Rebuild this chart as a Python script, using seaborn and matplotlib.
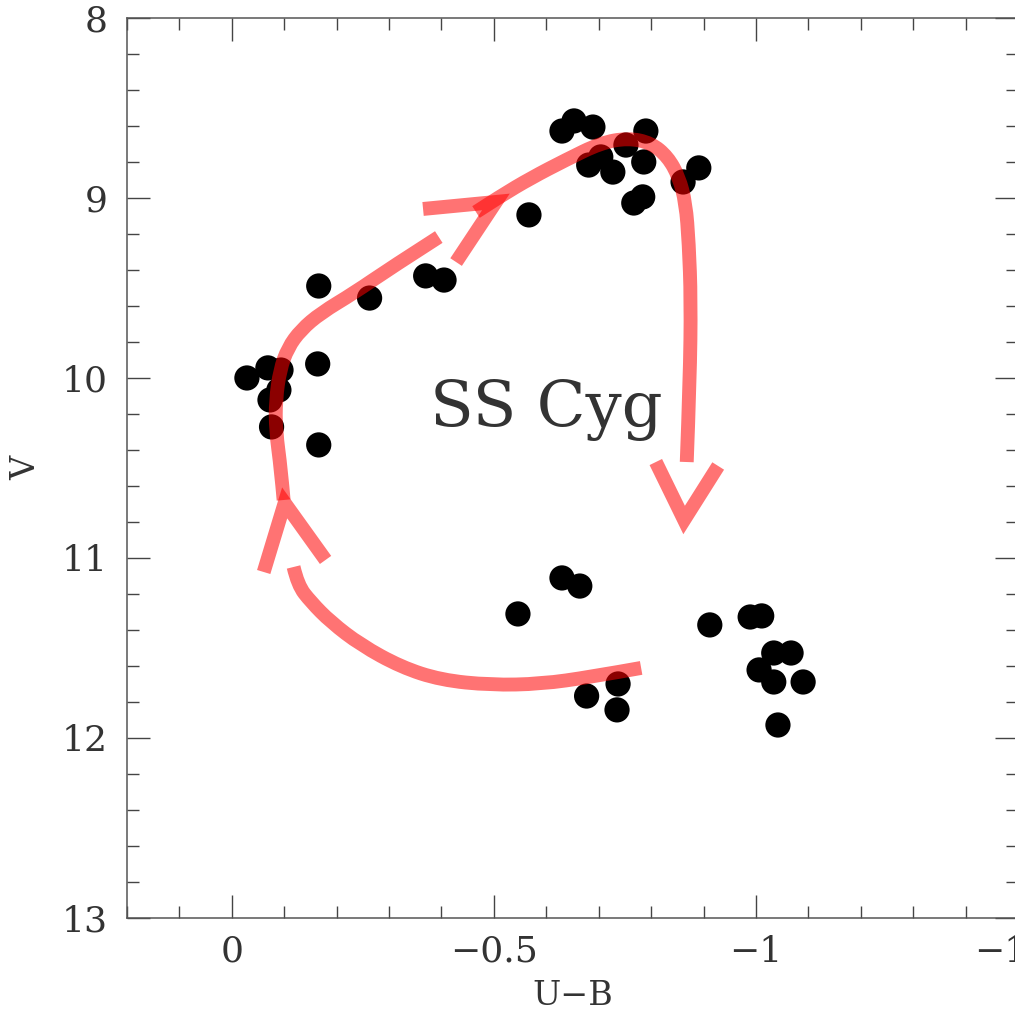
import numpy as np
import pandas as pd
import seaborn as sns
import matplotlib.pyplot as plt
from matplotlib.path import Path
from matplotlib.patches import PathPatch
from matplotlib.ticker import MultipleLocator

# SS Cyg colour-magnitude points (U-B, V)
ub_rise = [-0.029, -0.069, -0.094, -0.090, -0.073, -0.076, -0.166, -0.164,
           -0.166, -0.263, -0.370, -0.405, -0.567]
v_rise = [10.000, 9.944, 9.956, 10.067, 10.122, 10.272, 9.489, 9.922,
          10.372, 9.556, 9.433, 9.456, 9.094]

ub_peak = [-0.630, -0.653, -0.689, -0.790, -0.752, -0.681, -0.704, -0.727,
           -0.786, -0.891, -0.861, -0.767, -0.784]
v_peak = [8.628, 8.572, 8.606, 8.628, 8.706, 8.817, 8.772, 8.856,
          8.800, 8.833, 8.911, 9.028, 8.994]

ub_quiet = [-0.546, -0.630, -0.664, -0.677, -0.737, -0.735, -0.912, -0.989,
            -1.011, -1.034, -1.067, -1.006, -1.034, -1.090, -1.042]
v_quiet = [11.311, 11.111, 11.156, 11.767, 11.700, 11.844, 11.372, 11.328,
           11.322, 11.528, 11.528, 11.622, 11.689, 11.689, 11.928]

df = pd.DataFrame({"ub": ub_rise + ub_peak + ub_quiet,
                   "v": v_rise + v_peak + v_quiet})

# hand drawn red loop (annotation strokes, data units)
left_x = [-0.099, -0.094, -0.084, -0.084, -0.092, -0.107, -0.132, -0.170,
          -0.233, -0.303, -0.395]
left_y = [10.678, 10.511, 10.289, 10.122, 9.956, 9.833, 9.733, 9.639,
          9.528, 9.389, 9.217]
top_x = [-0.466, -0.513, -0.571, -0.637, -0.704, -0.756, -0.800, -0.832,
         -0.853, -0.866, -0.872, -0.876, -0.874, -0.868]
top_y = [9.078, 8.989, 8.889, 8.789, 8.694, 8.667, 8.694, 8.772,
         8.883, 9.028, 9.250, 9.567, 10.011, 10.467]
bot_x = [-0.118, -0.126, -0.151, -0.189, -0.246, -0.323, -0.399, -0.494,
         -0.590, -0.685, -0.781]
bot_y = [11.050, 11.150, 11.244, 11.356, 11.483, 11.606, 11.678, 11.706,
         11.700, 11.661, 11.611]
heads = [
    ([-0.365, -0.504, -0.428], [9.061, 9.022, 9.356]),
    ([-0.809, -0.863, -0.928], [10.467, 10.789, 10.489]),
    ([-0.061, -0.101, -0.179], [11.078, 10.694, 11.011]),
]

sns.set_style("ticks")
plt.rcParams['font.family'] = ['DejaVu Serif']

fig = plt.figure(figsize=(10.15, 10.16), dpi=100)
ax = fig.add_axes([0.125, 0.0965, 0.878, 0.8858])

sns.scatterplot(data=df, x="ub", y="v", color="black", s=330,
                edgecolor="none", legend=False, ax=ax, zorder=2)

red = dict(edgecolor="red", alpha=0.55, lw=10, fill=False,
           capstyle="butt", zorder=3)


def stroke(xs, ys):
    # smooth quadratic path through the midpoints of the sketched points
    pts = list(zip(xs, ys))
    verts = [pts[0]]
    codes = [Path.MOVETO]
    for i in range(1, len(pts) - 1):
        mid = ((pts[i][0] + pts[i + 1][0]) / 2, (pts[i][1] + pts[i + 1][1]) / 2)
        if i == len(pts) - 2:
            mid = pts[-1]
        verts += [pts[i], mid]
        codes += [Path.CURVE3, Path.CURVE3]
    ax.add_patch(PathPatch(Path(verts, codes), joinstyle="round", **red))


stroke(left_x, left_y)
stroke(top_x, top_y)
stroke(bot_x, bot_y)
for hx, hy in heads:
    ax.add_patch(PathPatch(Path(list(zip(hx, hy))), joinstyle="miter", **red))

ax.text(-0.60, 10.18, "SS Cyg", fontsize=46, ha="center", va="center",
        color="#333333")

ax.set_xlim(0.2, -1.5)
ax.set_ylim(13, 8)
ax.set_xticks([0, -0.5, -1, -1.5])
ax.set_xticklabels(["0", "\u22120.5", "\u22121", "\u22121.5"])
ax.set_yticks([8, 9, 10, 11, 12, 13])
ax.xaxis.set_minor_locator(MultipleLocator(0.1))
ax.yaxis.set_minor_locator(MultipleLocator(0.2))
ax.tick_params(which="both", direction="in", top=True, right=True,
               colors="#444444", labelcolor="#333333")
ax.tick_params(which="major", length=16.5, width=1.0, labelsize=26)
ax.tick_params(which="minor", length=8.5, width=1.0)
ax.tick_params(axis="x", which="major", pad=12)
ax.tick_params(axis="y", which="major", pad=14)
for s in ax.spines.values():
    s.set_color("#555555")
    s.set_linewidth(1.1)

ax.set_xlabel("U\u2212B", fontsize=24, labelpad=8, color="#333333")
ax.set_ylabel("V", fontsize=24, labelpad=14, color="#333333")

fig.savefig("out.png", dpi=100)
